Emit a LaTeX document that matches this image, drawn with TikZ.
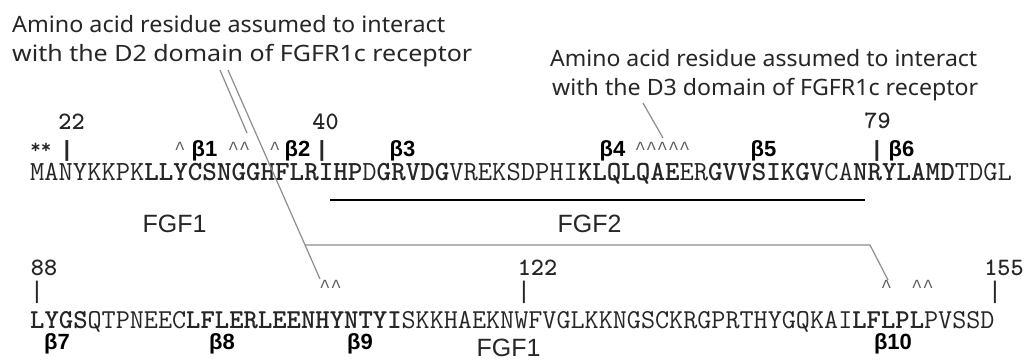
\documentclass[tikz,border=0pt]{standalone}
\usepackage{fontspec}
\usepackage{graphicx}
\usetikzlibrary{calc}
\newfontfamily\annfont{Noto Sans}
\newfontfamily\labfont{Liberation Sans}
\newfontfamily\cmono{Liberation Mono}
\definecolor{anntext}{HTML}{262626}
\definecolor{seqtext}{HTML}{262626}
\definecolor{caretgray}{HTML}{5A5A5A}
\definecolor{linegray}{HTML}{8E8E8E}
\newcommand{\bseq}[1]{{\bfseries #1}}
\newcommand{\crt}{\symbol{"5E}}
\tikzset{
  ann/.style={anchor=base west, inner sep=0pt, text=anntext, font=\annfont\fontsize{22.5}{22.5}\selectfont},
  betalab/.style={anchor=base, inner sep=0pt, text=black, font=\labfont\bfseries\fontsize{22}{22}\selectfont},
  fgflab/.style={anchor=base, inner sep=0pt, text=black!85, font=\labfont\fontsize{25}{25}\selectfont},
  numlab/.style={anchor=base, inner sep=0pt, text=seqtext, font=\ttfamily\bfseries\fontsize{25}{25}\selectfont},
  seqline/.style={anchor=base west, inner sep=0pt, text=seqtext},
  caretlab/.style={anchor=base, inner sep=0pt, text=caretgray, font=\cmono\fontsize{18.5}{18.5}\selectfont},
  barlab/.style={anchor=base, inner sep=0pt, text=seqtext, font=\labfont\bfseries\fontsize{22}{22}\selectfont},
  barlabtwo/.style={anchor=base, inner sep=0pt, text=seqtext, font=\labfont\fontsize{24}{24}\selectfont},
  pointer/.style={draw=linegray, line width=1.2pt},
  underline/.style={draw=black, line width=1.4pt},
}
\begin{document}
\begin{tikzpicture}[x=1pt,y=-1pt]
\useasboundingbox[fill=white] (0,0) rectangle (1034,360);

% annotations
\node[ann] (d2l1) at (12,32) {\resizebox{433pt}{\height}{Amino acid residue assumed to interact}};
\node[ann] (d2l2) at (12,61) {\resizebox{460pt}{\height}{with the D2 domain of FGFR1c receptor}};
\node[ann] (d3l1) at (550,66.5) {\resizebox{427pt}{\height}{Amino acid residue assumed to interact}};
\node[ann] (d3l2) at (552,95) {\resizebox{426pt}{\height}{with the D3 domain of FGFR1c receptor}};

% numbers row 1
\node[numlab] (n22) at (71.5,129.5) {22};
\node[numlab] (n40) at (325.5,129.5) {40};
\node[numlab] (n79) at (877.5,128) {79};

% marks row 1
\node[caretlab, text=seqtext, font=\ttfamily\bfseries\fontsize{20}{20}\selectfont] (ast) at (41,153) {**};
\node[barlab] (bar22) at (67,156) {|};
\node[barlab] (bar40) at (322,156) {|};
\node[barlab] (bar79) at (877,156) {|};
\node[caretlab] (c1) at (180,154) {\crt};
\node[caretlab] (c2) at (239,154) {\crt\crt};
\node[caretlab] (c3) at (275,154) {\crt};
\node[caretlab] (c4) at (662.5,154) {\crt\crt\crt\crt\crt};

\node[betalab] (b1) at (204.5,156) {β1};
\node[betalab] (b2) at (297.5,156) {β2};
\node[betalab] (b3) at (402.5,156) {β3};
\node[betalab] (b4) at (612.5,156) {β4};
\node[betalab] (b5) at (763.5,156) {β5};
\node[betalab] (b6) at (901.5,156) {β6};

% sequence row 1
\node[seqline, font=\ttfamily\fontsize{27.7}{27.7}\selectfont] (seq1) at (30,180.5)
  {MANYKKPK\bseq{LLYCSNGGHFLRIHP}D\bseq{GRVDG}VREKSDPHI\bseq{KLQLQAE}ER\bseq{GVVSIKGV}CA\bseq{NRYLAMD}TDGL};

% FGF2 underline and labels
\coordinate (u1) at (330,200);
\coordinate (u2) at (865,200);
\draw[underline] (u1) -- (u2);
\node[fgflab] (fgf1a) at (174.5,232) {FGF1};
\node[fgflab] (fgf2) at (589.5,232) {FGF2};

% numbers row 2
\node[numlab] (n88) at (44,275) {88};
\node[numlab] (n122) at (537.5,275) {122};
\node[numlab] (n155) at (1004,275) {155};
\node[barlabtwo] (bar88) at (37,298) {|};
\node[barlabtwo] (bar122) at (524,298) {|};
\node[barlabtwo] (bar155) at (995,298) {|};

\node[caretlab] (c5) at (330.5,292.5) {\crt\crt};
\node[caretlab] (c6) at (886.5,292.5) {\crt};
\node[caretlab] (c7) at (922.5,292.5) {\crt\crt};

% sequence row 2
\node[seqline, font=\ttfamily\fontsize{27.35}{27.35}\selectfont] (seq2) at (30,328)
  {\bseq{LYGS}QTPNEEC\bseq{LFLERLEENHYNTYI}SKKHAEKNWFVGLKKNGSCKRGPRTHYGQKAI\bseq{LFLPL}PVSSD};

\node[betalab] (b7) at (57,349) {β7};
\node[betalab] (b8) at (222,349) {β8};
\node[betalab] (b9) at (360,349) {β9};
\node[betalab] (b10) at (893,349) {β10};
\node[fgflab] (fgf1b) at (508.5,356.5) {FGF1};

% pointer lines
\coordinate (pa1) at (220,70);
\coordinate (pa2) at (247,133);
\coordinate (pb1) at (228,70);
\coordinate (pb2) at (320,279);
\coordinate (pj) at ($(pb1)!0.837!(pb2)$);
\coordinate (pk) at (870,245);
\coordinate (pk2) at (888,280);
\draw[pointer] (pa1) -- (pa2);
\draw[pointer] (pb1) -- (pb2);
\draw[pointer] (pj) -- (pk) -- (pk2);
\coordinate (pd1) at (643,103);
\coordinate (pd2) at (663,138);
\draw[pointer] (pd1) -- (pd2);
\end{tikzpicture}
\end{document}
